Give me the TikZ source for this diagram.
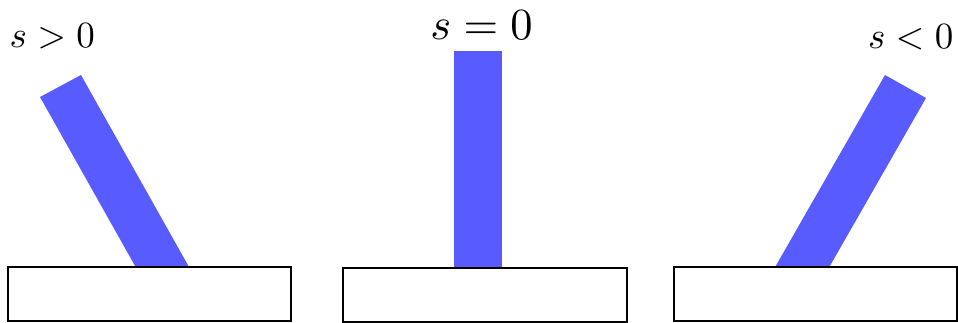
\documentclass[tikz,border=0pt]{standalone}
\usepackage{tikz}
\definecolor{barblue}{RGB}{88,92,255}
\begin{document}
\begin{tikzpicture}[x=1pt,y=-1pt,
  bar/.style={fill=barblue,draw=none},
  base/.style={draw=black,fill=white,line width=2pt},
  lbl/.style={inner sep=0pt,scale=3.7},
  biglbl/.style={inner sep=0pt,scale=4.45}]
\useasboundingbox (0,0) rectangle (958,322);
% bars
\fill[bar] (40,97) -- (81,75) -- (198.6,284) -- (157.6,306) -- cycle;
\fill[bar] (454,51) rectangle (502,290);
\fill[bar] (885,75) -- (926,98) -- (807,306) -- (766,283) -- cycle;
% bases
\draw[base] (8,267) rectangle (291,321);
\draw[base] (343,268) rectangle (627,322);
\draw[base] (674,267) rectangle (957,321);
% labels
\node[lbl,anchor=base west] (l1) at (9,47) {$s>0$};
\node[biglbl,anchor=base] (l2) at (481.5,39) {$s=0$};
\node[lbl,anchor=base east] (l3) at (954,48) {$s<0$};
\end{tikzpicture}
\end{document}
